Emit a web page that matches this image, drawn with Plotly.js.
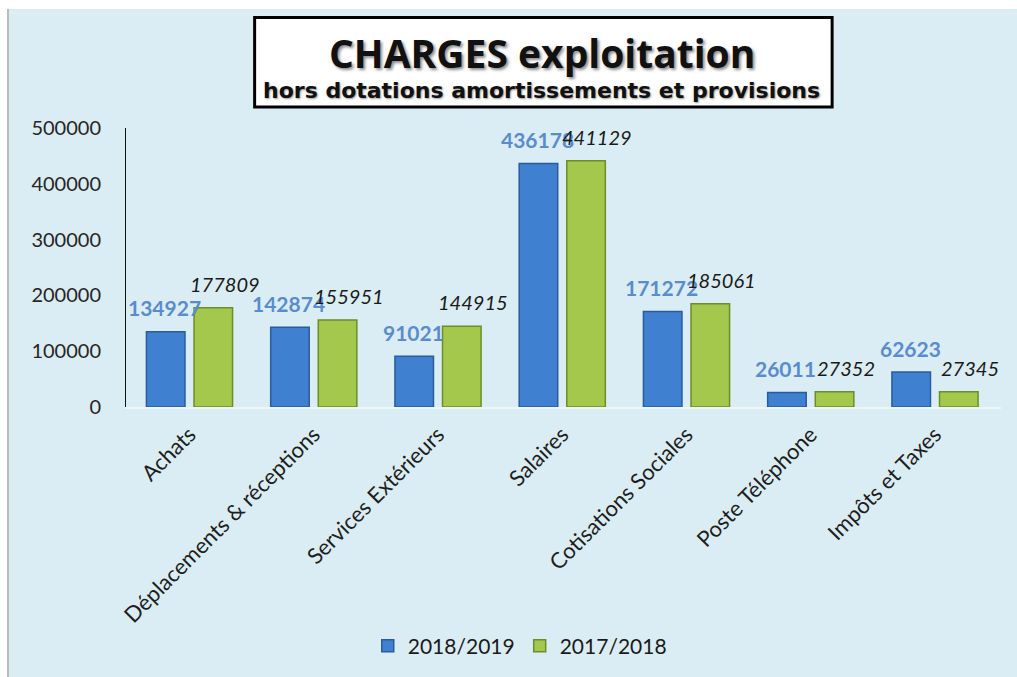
<!DOCTYPE html>
<html>
<head>
<meta charset="utf-8">
<script src="https://cdn.plot.ly/plotly-3.0.1.min.js"></script>
<style>
  html, body { margin: 0; padding: 0; background: #ffffff; }
  #wrap { position: absolute; left: 7px; top: 9px; width: 1010px; height: 668px; border-left: 2px solid #b8bcbf; }
  #chart { width: 1008px; height: 668px; }
</style>
</head>
<body>
<div id="wrap"><div id="chart"></div></div>
<script>
const categories = ['Achats', 'Déplacements & réceptions', 'Services Extérieurs', 'Salaires', 'Cotisations Sociales', 'Poste Téléphone', 'Impôts et Taxes'];
const seriesNames = ['2018/2019', '2017/2018'];
const values1819 = [134927, 142874, 91021, 436178, 171272, 26011, 62623];
const values1718 = [177809, 155951, 144915, 441129, 185061, 27352, 27345];
const yTicks = [0, 100000, 200000, 300000, 400000, 500000];

const FONT = 'Lato, "Open Sans", sans-serif';

const traces = [
  {
    type: 'bar', name: seriesNames[0], x: categories, y: values1819,
    marker: { color: '#3f80d1', line: { color: '#2a5c9c', width: 1.5 } },
    hoverinfo: 'x+y'
  },
  {
    type: 'bar', name: seriesNames[1], x: categories, y: values1718,
    marker: { color: '#a3c84b', line: { color: '#6e8c27', width: 1.5 } },
    hoverinfo: 'x+y'
  }
];

const annotations = [];
categories.forEach((c, i) => {
  annotations.push({
    x: c, y: values1819[i], xref: 'x', yref: 'y',
    text: String(values1819[i]), showarrow: false,
    xshift: -25, yshift: 24, yanchor: 'middle', xanchor: 'center',
    font: { family: FONT, size: 21, color: '#5a8ccc', weight: 'bold' }
  });
  annotations.push({
    x: c, y: values1718[i], xref: 'x', yref: 'y',
    text: String(values1718[i]), showarrow: false,
    xshift: 35, yshift: 24, yanchor: 'middle', xanchor: 'center',
    font: { family: FONT, size: 20, color: '#1a1a1a', style: 'italic' }
  });
});

annotations.push({
  xref: 'paper', yref: 'paper', x: 0.475, y: 1.271,
  text: '<b>CHARGES exploitation</b>', showarrow: false,
  xanchor: 'center', yanchor: 'middle',
  font: { family: '"Open Sans", Lato, sans-serif', size: 39, color: '#111111', shadow: '2px 2px 3px rgba(0,0,0,0.45)' }
});
annotations.push({
  xref: 'paper', yref: 'paper', x: 0.475, y: 1.136,
  text: '<b>hors dotations amortissements et provisions</b>', showarrow: false,
  xanchor: 'center', yanchor: 'middle',
  font: { family: '"DejaVu Sans", Verdana, sans-serif', size: 22, color: '#111111', shadow: '1px 1px 2px rgba(0,0,0,0.4)' }
});

const layout = {
  width: 1008, height: 668,
  margin: { l: 117, r: 16, t: 119, b: 269 },
  paper_bgcolor: '#dbedf4',
  plot_bgcolor: 'rgba(0,0,0,0)',
  barmode: 'group',
  bargap: 0.234,
  bargroupgap: 0.19,
  showlegend: true,
  legend: {
    orientation: 'h', x: 0.45, xanchor: 'center', y: -0.85, yanchor: 'middle',
    font: { family: FONT, size: 21, color: '#1a1a1a' },
    bgcolor: 'rgba(0,0,0,0)', itemwidth: 30
  },
  xaxis: {
    type: 'category',
    tickangle: -45,
    showgrid: false, zeroline: false,
    showline: true, linecolor: '#eef6f9', linewidth: 2,
    ticks: '', ticklabelstandoff: 4,
    tickfont: { family: FONT, size: 22, color: '#1e1e1e' }
  },
  yaxis: {
    range: [0, 500000],
    tickvals: yTicks,
    ticktext: yTicks.map(String),
    showgrid: false, zeroline: false,
    showline: true, linecolor: '#111111', linewidth: 1,
    ticks: '', ticklabelstandoff: 20,
    tickfont: { family: FONT, size: 20, color: '#262626' }
  },
  shapes: [{
    type: 'rect', xref: 'paper', yref: 'paper',
    x0: 0.147, x1: 0.807, y0: 1.075, y1: 1.396,
    fillcolor: '#ffffff', line: { color: '#000000', width: 3 }, layer: 'below'
  }],
  annotations: annotations
};

Plotly.newPlot('chart', traces, layout, { displayModeBar: false, staticPlot: true });
</script>
</body>
</html>
